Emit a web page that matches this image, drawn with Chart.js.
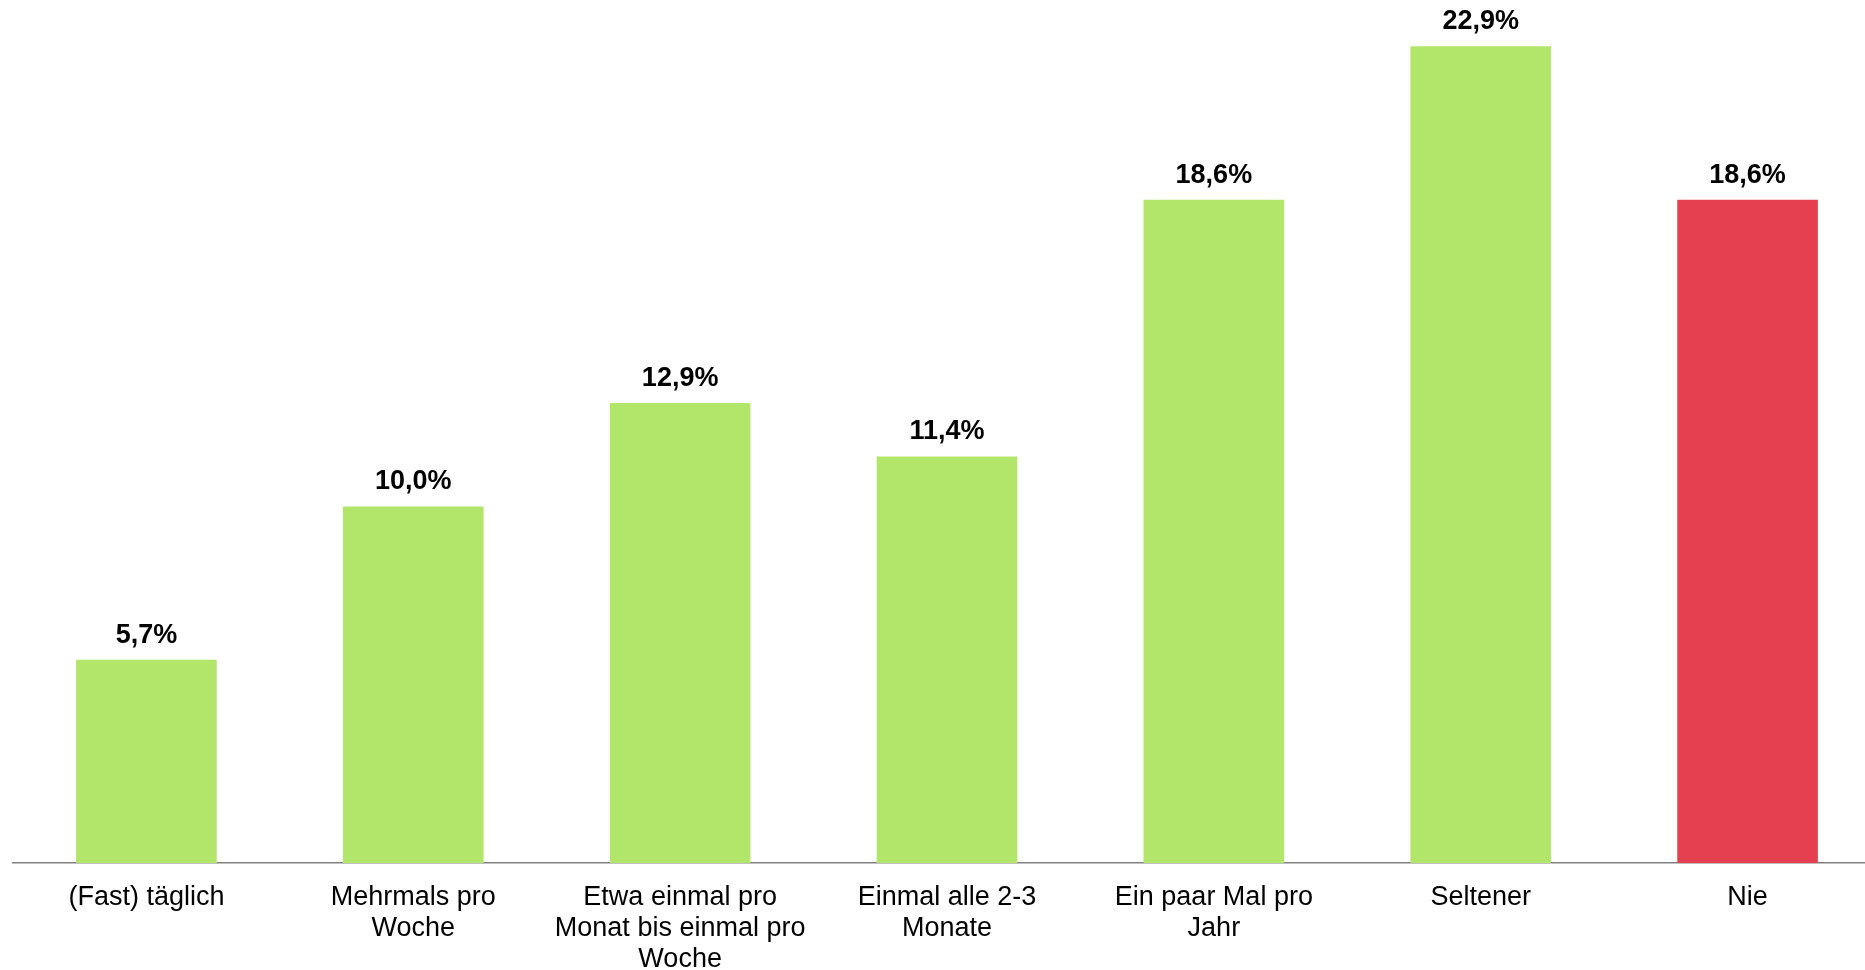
<!DOCTYPE html>
<html>
<head>
<meta charset="utf-8">
<script src="https://cdn.jsdelivr.net/npm/chart.js@4/dist/chart.umd.min.js"></script>
<style>
  html, body { margin: 0; padding: 0; background: #fff; overflow: hidden; }
  /* plot area runs a little past the right edge, as in the original */
  #wrap { width: 1881px; height: 970px; position: relative; }
  canvas { display: block; }
</style>
</head>
<body>
<div id="wrap"><canvas id="freqChart"></canvas></div>
<script>
const categories = [
  "(Fast) täglich",
  ["Mehrmals pro", "Woche"],
  ["Etwa einmal pro", "Monat bis einmal pro", "Woche"],
  ["Einmal alle 2-3", "Monate"],
  ["Ein paar Mal pro", "Jahr"],
  "Seltener",
  "Nie",
];
const shares = [5.7, 10.0, 12.9, 11.4, 18.6, 22.9, 18.6];
const barColors = ["#B2E66A", "#B2E66A", "#B2E66A", "#B2E66A", "#B2E66A", "#B2E66A", "#E5404F"];

const palette = {
  text: "#000000",
  axis: "#808080",
};

// value labels above bars, German decimal comma
const valueLabels = {
  id: "valueLabels",
  afterDatasetsDraw(chart) {
    const ctx = chart.ctx;
    const meta = chart.getDatasetMeta(0);
    ctx.save();
    ctx.font = "bold 27px 'Liberation Sans', Arial, sans-serif";
    ctx.fillStyle = palette.text;
    ctx.textAlign = "center";
    ctx.textBaseline = "alphabetic";
    meta.data.forEach((bar, i) => {
      const txt = shares[i].toFixed(1).replace(".", ",") + "%";
      ctx.fillText(txt, bar.x, bar.y - 17);
    });
    ctx.restore();
  },
};

new Chart(document.getElementById("freqChart"), {
  type: "bar",
  data: {
    labels: categories,
    datasets: [
      {
        data: shares,
        backgroundColor: barColors,
        borderWidth: 0,
        categoryPercentage: 1,
        barPercentage: 0.527,
      },
    ],
  },
  options: {
    responsive: true,
    maintainAspectRatio: false,
    animation: false,
    layout: { padding: { left: 13, right: 0, top: 0, bottom: 0 } },
    plugins: {
      legend: { display: false },
      tooltip: { enabled: false },
    },
    scales: {
      x: {
        grid: { display: false, drawTicks: false },
        border: { display: true, color: palette.axis, width: 1.5 },
        ticks: {
          color: palette.text,
          padding: 19,
          maxRotation: 0,
          autoSkip: false,
          font: { family: "'Liberation Sans', Arial, sans-serif", size: 27, lineHeight: 1.15 },
        },
        afterFit(scale) {
          scale.height = 107;
        },
      },
      y: {
        display: false,
        min: 0,
        max: 24.2,
      },
    },
  },
  plugins: [valueLabels],
});
</script>
</body>
</html>
